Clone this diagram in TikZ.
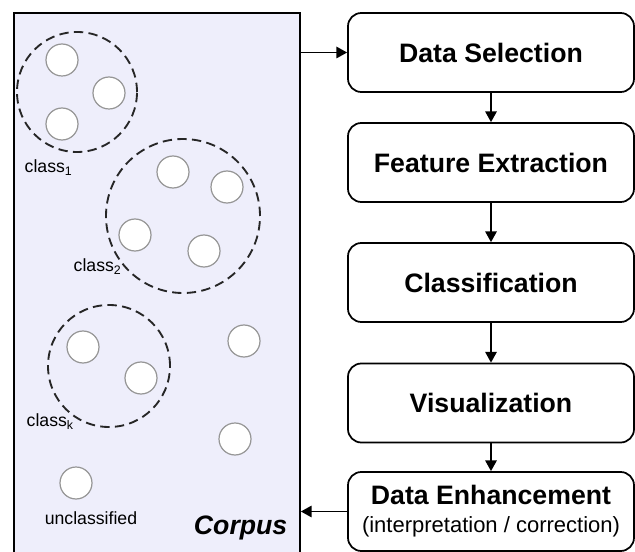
\documentclass[tikz,border=0pt]{standalone}
\usepackage{fontspec}
\setmainfont{Liberation Sans}
\usetikzlibrary{arrows.meta}
\definecolor{corpusfill}{RGB}{238,238,251}
\definecolor{docline}{RGB}{150,150,150}

\tikzset{
  stage/.style={draw, line width=1.3pt, rounded corners=10pt, minimum width=214.5pt,
    minimum height=59.25pt, align=center, font=\fontsize{20}{23}\selectfont\bfseries},
  corpusbox/.style={draw, fill=corpusfill, line width=1.3pt, minimum width=214.5pt,
    minimum height=408pt, inner sep=0pt},
  doc/.style={circle, draw=docline, fill=white, line width=0.9pt, minimum size=24pt, inner sep=0pt},
  cluster/.style={circle, draw=black!85, dash pattern=on 7pt off 4pt, line width=1.4pt, inner sep=0pt},
  lbl/.style={font=\fontsize{13.25}{15}\selectfont},
  flow/.style={-{Triangle[length=8pt,width=8.5pt]}, line width=1.3pt},
}

\begin{document}
\begin{tikzpicture}[x=0.75pt, y=-0.75pt]
\useasboundingbox (0,0) rectangle (635,552);

% Corpus
\node[corpusbox] (corpus) at (157,285) {};
\node[anchor=east, font=\fontsize{20}{22}\selectfont\bfseries\itshape] (corpuslbl) at (292,528) {Corpus};

% Classes
\node[cluster, minimum size=90pt] (cl1) at (77,92) {};
\node[cluster, minimum size=115.5pt] (cl2) at (183,216) {};
\node[cluster, minimum size=91.5pt] (clk) at (109,366) {};

% Documents
\foreach \px/\py [count=\i] in {62/60, 109/93, 62/124, 173/172, 227/187, 135/235, 204/251,
    83/347, 141/378, 244/341, 235/439, 76/483}
  \node[doc] (d\i) at (\px,\py) {};

% Labels
\node[lbl, anchor=west] (lbl1) at (20,168) {class\textsubscript{1}};
\node[lbl, anchor=west] (lbl2) at (69,267) {class\textsubscript{2}};
\node[lbl, anchor=west] (lblk) at (22,422) {class\textsubscript{k}};
\node[lbl] (lblu) at (91,518) {unclassified};

% Process
\node[stage] (sel) at (491,52.5) {Data Selection};
\node[stage] (feat) at (491,162.5) {Feature Extraction};
\node[stage] (cls) at (491,282.5) {Classification};
\node[stage] (vis) at (491,403) {Visualization};
\node[stage] (enh) at (491,511.5) {Data Enhancement\\[-2pt]{\fontsize{16.5}{19}\selectfont\mdseries (interpretation / correction)}};

% Arrows
\draw[flow] (corpus.east |- sel) -- (sel.west);
\draw[flow] (sel) -- (feat);
\draw[flow] (feat) -- (cls);
\draw[flow] (cls) -- (vis);
\draw[flow] (vis) -- (enh);
\draw[flow] (enh.west) -- (corpus.east |- enh);

\end{tikzpicture}
\end{document}
